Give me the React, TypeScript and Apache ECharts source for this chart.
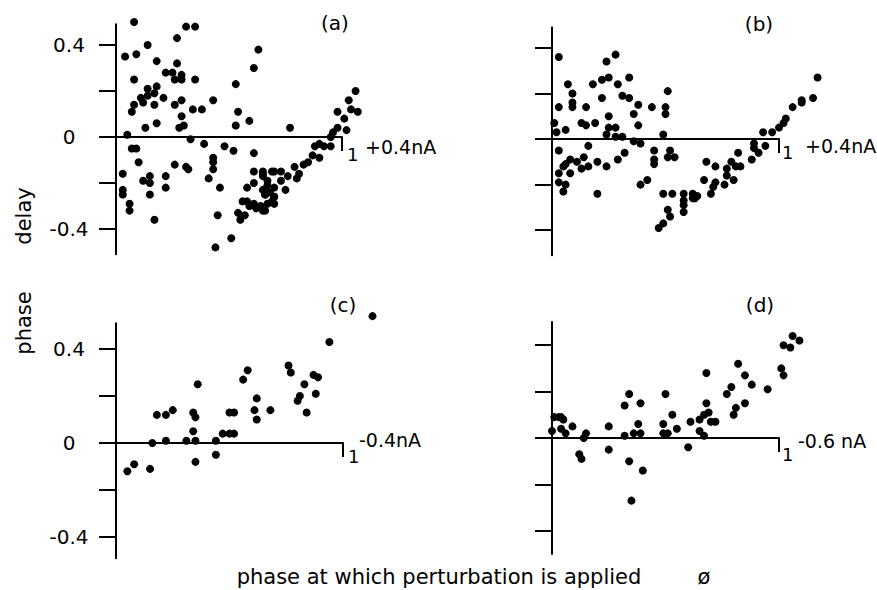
import React, { useEffect, useRef } from "react";
import * as echarts from "echarts";

// ---- data (x = phase of perturbation, y = phase delay) ----
const panelA: number[][] = [
  [0.08, 0.5], [0.31, 0.48], [0.35, 0.48], [0.27, 0.43], [0.14, 0.4], [0.04, 0.35], [0.09, 0.36], [0.63, 0.38],
  [0.18, 0.33], [0.27, 0.32], [0.61, 0.3], [0.22, 0.28], [0.25, 0.28], [0.29, 0.27], [0.26, 0.25], [0.29, 0.25],
  [0.35, 0.25], [0.08, 0.25], [0.53, 0.23], [0.14, 0.21], [0.18, 0.22], [0.17, 0.19], [0.14, 0.18], [0.11, 0.17],
  [0.12, 0.15], [0.08, 0.14], [0.07, 0.11], [0.17, 0.14], [0.21, 0.17], [0.26, 0.14], [0.29, 0.16], [0.34, 0.12],
  [0.38, 0.12], [0.43, 0.16], [0.29, 0.09], [0.28, 0.04], [0.3, 0.05], [0.13, 0.04], [0.18, 0.06], [0.54, 0.11],
  [0.53, 0.05], [0.59, 0.07], [0.05, 0.01], [0.33, -0.01], [0.39, -0.03], [0.48, -0.04], [0.52, -0.06], [0.61, -0.07],
  [0.07, -0.05], [0.09, -0.05], [0.1, -0.11], [0.26, -0.12], [0.31, -0.13], [0.32, -0.14], [0.43, -0.09], [0.43, -0.11],
  [0.43, -0.14], [0.41, -0.18], [0.46, -0.22], [0.03, -0.16], [0.12, -0.19], [0.15, -0.17], [0.15, -0.2], [0.22, -0.17],
  [0.22, -0.22], [0.03, -0.23], [0.03, -0.25], [0.15, -0.25], [0.06, -0.29], [0.06, -0.32], [0.17, -0.36], [0.45, -0.34],
  [0.51, -0.44], [0.44, -0.48],
  [0.61, -0.15], [0.65, -0.15], [0.69, -0.15], [0.65, -0.17], [0.61, -0.2], [0.58, -0.22], [0.67, -0.21], [0.65, -0.23],
  [0.68, -0.24], [0.66, -0.25], [0.7, -0.26], [0.58, -0.28], [0.56, -0.28], [0.61, -0.29], [0.64, -0.3], [0.7, -0.29],
  [0.62, -0.31], [0.66, -0.32], [0.54, -0.33], [0.57, -0.34], [0.55, -0.36], [0.59, -0.3],
  [0.77, 0.04], [1.06, 0.2], [1.03, 0.16], [1.04, 0.12], [1.07, 0.11], [0.98, 0.11], [1.01, 0.08], [0.98, 0.04],
  [1.02, 0.03], [0.96, 0.02], [0.95, 0.0], [0.9, -0.03], [0.92, -0.04], [0.95, -0.04], [0.88, -0.04], [0.87, -0.08],
  [0.9, -0.09], [0.85, -0.11], [0.83, -0.12], [0.79, -0.13], [0.81, -0.16], [0.76, -0.17], [0.8, -0.18], [0.73, -0.15],
  [0.7, -0.15], [0.73, -0.19], [0.75, -0.23], [0.65, -0.16], [0.67, -0.19], [0.7, -0.22], [0.7, -0.26], [0.66, -0.25],
  [0.67, -0.29], [0.65, -0.32], [0.69, -0.28],
];

const panelB: number[][] = [
  [0.03, 0.36], [0.24, 0.34], [0.28, 0.37], [0.07, 0.24], [0.09, 0.2], [0.18, 0.24], [0.22, 0.26], [0.25, 0.27],
  [0.29, 0.24], [0.34, 0.27], [0.51, 0.21], [0.09, 0.16], [0.09, 0.14], [0.03, 0.14], [0.15, 0.14], [0.22, 0.18],
  [0.31, 0.19], [0.34, 0.18], [0.38, 0.15], [0.44, 0.14], [0.5, 0.14], [0.5, 0.11], [0.25, 0.1], [0.36, 0.11],
  [0.13, 0.07], [0.15, 0.06], [0.19, 0.07], [0.01, 0.07], [0.02, 0.03], [0.06, 0.04], [0.25, 0.05], [0.28, 0.05],
  [0.38, 0.06], [0.24, 0.02], [0.28, 0.01], [0.31, 0.01], [0.49, 0.02], [0.36, -0.01], [0.39, -0.02], [0.03, -0.05],
  [0.16, -0.03], [0.45, -0.05], [0.52, -0.05], [0.32, -0.06], [0.08, -0.09], [0.14, -0.08], [0.11, -0.1], [0.51, -0.08],
  [0.54, -0.08], [0.45, -0.09], [0.45, -0.11], [0.29, -0.09], [0.2, -0.1], [0.05, -0.12], [0.06, -0.11], [0.13, -0.13],
  [0.16, -0.12], [0.24, -0.12], [0.03, -0.15], [0.08, -0.15], [0.03, -0.19], [0.06, -0.2], [0.05, -0.23], [0.2, -0.24],
  [0.39, -0.2], [0.42, -0.18], [0.49, -0.24], [0.53, -0.24], [0.58, -0.24], [0.58, -0.27], [0.58, -0.29], [0.62, -0.24],
  [0.62, -0.26], [0.64, -0.25], [0.58, -0.32], [0.51, -0.31], [0.52, -0.34], [0.49, -0.37], [0.47, -0.39],
  [1.17, 0.27], [1.15, 0.18], [1.1, 0.16], [1.1, 0.17], [1.06, 0.14], [1.03, 0.09], [1.02, 0.07], [1.0, 0.05],
  [0.93, 0.03], [0.97, 0.03], [0.89, -0.02], [0.89, -0.04], [0.94, -0.03], [0.91, -0.06], [0.88, -0.09], [0.82, -0.06],
  [0.68, -0.1], [0.72, -0.12], [0.79, -0.1], [0.77, -0.13], [0.81, -0.12], [0.83, -0.12], [0.77, -0.16], [0.8, -0.18],
  [0.76, -0.2], [0.72, -0.19], [0.67, -0.18], [0.71, -0.21], [0.7, -0.24], [0.63, -0.26],
];

const panelC: number[][] = [
  [0.05, -0.12], [0.08, -0.09], [0.15, -0.11], [0.16, 0.0], [0.18, 0.12], [0.22, 0.12], [0.25, 0.14], [0.22, 0.01],
  [0.31, 0.01], [0.35, 0.01], [0.34, 0.05], [0.34, 0.13], [0.35, 0.11], [0.36, 0.25], [0.35, -0.08], [0.44, 0.01],
  [0.44, -0.05], [0.47, 0.04], [0.5, 0.04], [0.52, 0.04], [0.5, 0.13], [0.52, 0.13], [0.56, 0.27], [0.58, 0.31],
  [0.62, 0.19], [0.61, 0.14], [0.62, 0.1], [0.68, 0.14], [1.13, 0.54], [0.94, 0.43], [0.76, 0.33], [0.77, 0.3],
  [0.87, 0.29], [0.89, 0.28], [0.83, 0.25], [0.81, 0.2], [0.8, 0.18], [0.88, 0.21], [0.84, 0.13],
];

const panelD: number[][] = [
  [0.0, 0.03], [0.01, 0.09], [0.03, 0.09], [0.04, 0.09], [0.05, 0.08], [0.04, 0.04], [0.06, 0.02], [0.09, 0.05],
  [0.14, 0.0], [0.15, 0.02], [0.12, -0.07], [0.13, -0.09], [0.25, 0.05], [0.25, -0.05], [0.32, 0.14], [0.34, 0.19],
  [0.39, 0.15], [0.32, 0.01], [0.36, 0.02], [0.38, 0.06], [0.39, 0.02], [0.34, -0.1], [0.4, -0.14], [0.35, -0.27],
  [0.5, 0.19], [0.53, 0.1], [0.49, 0.06], [0.49, 0.02], [0.51, 0.02], [0.55, 0.04], [0.6, -0.04], [0.61, 0.07],
  [0.65, 0.08], [0.65, 0.03], [0.67, 0.01], [0.68, 0.15], [0.67, 0.1], [0.69, 0.11], [0.7, 0.07], [0.72, 0.07],
  [0.68, 0.28], [0.77, 0.19], [0.79, 0.22], [0.82, 0.32], [0.85, 0.27], [0.88, 0.23], [0.95, 0.21], [0.81, 0.13],
  [0.8, 0.1], [0.85, 0.15], [1.01, 0.3], [1.02, 0.27], [1.02, 0.4], [1.05, 0.39], [1.06, 0.44], [1.09, 0.42],
];

const panelLetters = ["(a)", "(b)", "(c)", "(d)"];
const currents = ["+0.4nA", "+0.4nA", "-0.4nA", "-0.6 nA"];
const yTickValues = [-0.4, -0.2, 0, 0.2, 0.4];
const yLabelValues = [-0.4, 0, 0.4];
const xTickValues = [1];
const xEndLabel = "1";
const yTitleWords = ["phase", "delay"];
const xTitle = "phase at which perturbation is applied";
const xSymbol = "ø";

const FONT = '"DejaVu Sans", sans-serif';

export default function App() {
  const ref = useRef<HTMLDivElement>(null);

  useEffect(() => {
    if (!ref.current) return;
    const chart = echarts.init(ref.current, undefined, { renderer: "svg" });

    const grids = [
      { left: 116, top: 24.3, width: 226, height: 230, ymin: -0.51, ymax: 0.49, labels: true },
      { left: 552, top: 27.3, width: 227, height: 228, ymin: -0.51, ymax: 0.49, labels: false },
      { left: 116, top: 323.2, width: 227, height: 235, ymin: -0.49, ymax: 0.51, labels: true },
      { left: 552, top: 322, width: 227, height: 232, ymin: -0.5, ymax: 0.5, labels: false },
    ];
    const data = [panelA, panelB, panelC, panelD];

    const lineStyle = { color: "#000", width: 2 };
    const txt = (text: string, x: number, y: number, size: number, align = "center", rotation = 0) => ({
      type: "text",
      x,
      y,
      rotation,
      style: { text, font: `${size}px ${FONT}`, fill: "#000", textAlign: align, textVerticalAlign: "middle" },
    });

    const option: any = {
      animation: false,
      backgroundColor: "#fff",
      grid: grids.map((g) => ({
        left: g.left,
        top: g.top,
        width: g.width,
        height: g.height,
        containLabel: false,
        outerBoundsMode: "none",
      })),
      xAxis: grids.map((g, i) => ({
        type: "value",
        gridIndex: i,
        min: 0,
        max: 1,
        axisLine: { show: true, onZero: true, lineStyle },
        axisTick: { show: true, length: 14, inside: false, lineStyle, customValues: xTickValues },
        axisLabel: { show: false },
        splitLine: { show: false },
      })),
      yAxis: grids.map((g, i) => ({
        type: "value",
        gridIndex: i,
        min: g.ymin,
        max: g.ymax,
        axisLine: { show: true, onZero: false, lineStyle },
        axisTick: { show: true, length: 17, inside: false, lineStyle, customValues: yTickValues },
        axisLabel: {
          show: g.labels,
          customValues: yLabelValues,
          formatter: (v: number) => (v === 0 ? "0" : v.toFixed(1)),
          color: "#000",
          fontFamily: FONT,
          fontSize: 20,
          align: "center",
          margin: 47,
        },
        splitLine: { show: false },
      })),
      series: data.map((d, i) => ({
        type: "scatter",
        xAxisIndex: i,
        yAxisIndex: i,
        data: d,
        symbol: "circle",
        symbolSize: 8,
        clip: false,
        itemStyle: { color: "#000", opacity: 1 },
      })),
      graphic: [
        txt(panelLetters[0], 335, 23, 20),
        txt(panelLetters[1], 759, 24, 20),
        txt(panelLetters[2], 343, 305, 20),
        txt(panelLetters[3], 760, 305, 20),
        txt(currents[0], 365, 147, 19, "left"),
        txt(currents[1], 805, 146, 19, "left"),
        txt(currents[2], 359, 440, 19, "left"),
        txt(currents[3], 798, 441, 19, "left"),
        txt(xEndLabel, 347, 154, 18, "left"),
        txt(xEndLabel, 782, 152, 18, "left"),
        txt(xEndLabel, 348, 456, 18, "left"),
        txt(xEndLabel, 782, 454, 18, "left"),
        txt(yTitleWords[0], 24, 323, 21, "center", Math.PI / 2),
        txt(yTitleWords[1], 24, 216, 21, "center", Math.PI / 2),
        txt(xTitle, 439, 577, 21),
        txt(xSymbol, 704, 577, 21),
      ],
    };

    chart.setOption(option);
    return () => chart.dispose();
  }, []);

  return (
    <div
      ref={ref}
      style={{ position: "absolute", left: 0, top: 0, width: 877, height: 590, background: "#fff" }}
    />
  );
}
